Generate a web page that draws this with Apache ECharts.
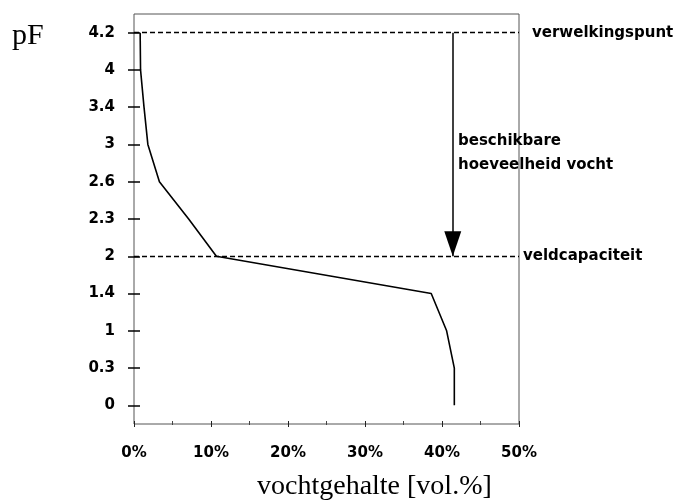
<!DOCTYPE html>
<html>
<head>
<meta charset="utf-8">
<script src="https://cdn.jsdelivr.net/npm/echarts@6/dist/echarts.min.js"></script>
<style>
  html, body { margin: 0; padding: 0; background: #fff; }
  #chart { width: 678px; height: 504px; }
</style>
</head>
<body>
<div id="chart"></div>
<script>
// pF levels (evenly spaced on the vertical axis)
const pfLabels = ['0', '0.3', '1', '1.4', '2', '2.3', '2.6', '3', '3.4', '4', '4.2'];
// soil moisture content (vol.%) at each pF level
const moisture = [41.6, 41.6, 40.6, 38.6, 10.7, 7.1, 3.3, 1.8, 1.3, 0.85, 0.8];
// x-axis range
const xTicks = { min: 0, max: 50, step: 10 };
// reference levels
const wiltingPoint = '4.2';
const fieldCapacity = '2';
const wiltingLabel = 'verwelkingspunt';
const fieldLabel = 'veldcapaciteit';
// available water arrow position (vol.%)
const arrowX = 41.4;
const arrowText = ['beschikbare', 'hoeveelheid vocht'];
const yTitle = 'pF';
const xTitle = 'vochtgehalte [vol.%]';

const sans = 'DejaVu Sans';
const serif = 'Liberation Serif';
const labelFont = { fontFamily: sans, fontWeight: 'bold', fontSize: 15, color: '#000' };

const wIdx = pfLabels.indexOf(wiltingPoint);
const fIdx = pfLabels.indexOf(fieldCapacity);

const chart = echarts.init(document.getElementById('chart'), null, { renderer: 'canvas' });

chart.setOption({
  animation: false,
  backgroundColor: '#fff',
  grid: {
    left: 134, right: 159, top: 14, bottom: 80, containLabel: false,
    show: true, borderColor: '#555', borderWidth: 1, backgroundColor: 'transparent'
  },
  xAxis: {
    type: 'value', min: xTicks.min, max: xTicks.max, interval: xTicks.step,
    position: 'bottom',
    offset: -3, // shifted up so the ticks cross the frame line
    axisLine: { show: false },
    axisTick: { show: true, length: 6, lineStyle: { color: '#222' } },
    minorTick: { show: true, splitNumber: 2, length: 4, lineStyle: { color: '#444' } },
    splitLine: { show: false },
    axisLabel: Object.assign({ margin: 25, formatter: '{value}%' }, labelFont)
  },
  yAxis: {
    type: 'category', data: pfLabels, boundaryGap: true,
    position: 'left',
    offset: -6, // shifted right so the ticks cross the frame line
    axisLine: { show: false },
    axisTick: { show: true, alignWithLabel: true, length: 12, lineStyle: { color: '#000', width: 1.5 } },
    splitLine: { show: false },
    axisLabel: Object.assign({ margin: 25 }, labelFont)
  },
  series: [
    {
      type: 'line',
      data: moisture.map((v, i) => [v, i]),
      showSymbol: false,
      symbol: 'none',
      lineStyle: { color: '#000', width: 1.6 },
      markLine: {
        silent: true,
        symbol: 'none',
        lineStyle: { color: '#000', type: [5, 3], width: 1.3 },
        label: Object.assign({ position: 'end', formatter: '{b}' }, labelFont),
        data: [
          { name: wiltingLabel, yAxis: wIdx, label: { distance: 13 } },
          { name: fieldLabel, yAxis: fIdx, label: { distance: 4 } }
        ]
      }
    },
    {
      type: 'line',
      data: [],
      markLine: {
        silent: true,
        symbol: ['none', 'triangle'],
        symbolSize: [17, 25],
        symbolOffset: [[0, 0], [0, 12.5]],
        lineStyle: { color: '#000', type: 'solid', width: 1.5 },
        itemStyle: { color: '#111' },
        label: { show: false },
        data: [[{ coord: [arrowX, wIdx] }, { coord: [arrowX, fIdx] }]]
      }
    }
  ],
  graphic: [
    {
      type: 'text', left: 12, top: 21,
      style: { text: yTitle, font: '30px "' + serif + '"', fill: '#000' }
    },
    {
      type: 'text', left: 257, top: 473,
      style: { text: xTitle, font: '28px "' + serif + '"', fill: '#000' }
    },
    {
      type: 'text', left: 458, top: 129,
      style: {
        text: arrowText.join('\n'),
        font: 'bold 15px "' + sans + '"',
        lineHeight: 24,
        fill: '#000'
      }
    }
  ]
});
</script>
</body>
</html>
